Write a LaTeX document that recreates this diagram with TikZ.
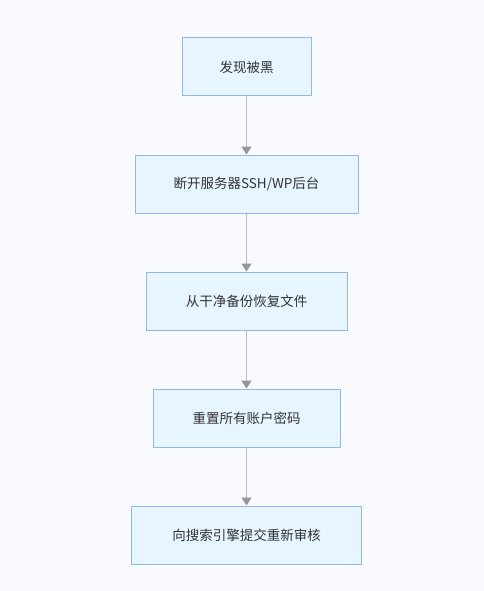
\documentclass[tikz,border=0pt]{standalone}
\usepackage{fontspec}
\newfontfamily\cjk{Noto Sans CJK SC}
\usetikzlibrary{arrows.meta}
\definecolor{bgc}{RGB}{248,250,253}
\definecolor{boxfill}{RGB}{230,245,255}
\definecolor{boxline}{RGB}{144,186,232}
\definecolor{linec}{RGB}{187,187,187}
\definecolor{tipc}{RGB}{150,150,150}
\definecolor{txt}{RGB}{51,51,51}
\tikzset{
  stepbox/.style={draw=boxline, fill=boxfill, line width=1pt, inner sep=0pt,
    font=\cjk\fontsize{13.5}{16}\selectfont, text=txt},
  conn/.style={draw=linec, line width=1.6pt,
    -{Triangle[length=8pt,width=10pt,fill=tipc,color=tipc]}}
}
\begin{document}
\begin{tikzpicture}[x=1pt,y=-1pt]
\useasboundingbox[fill=bgc] (0,0) rectangle (484,591);
\node[stepbox, minimum width=129pt, minimum height=58pt] (n1) at (246.5,67) {发现被黑};
\node[stepbox, minimum width=223pt, minimum height=58pt] (n2) at (246.5,184) {断开服务器SSH/WP后台};
\node[stepbox, minimum width=201pt, minimum height=58pt] (n3) at (246.5,301) {从干净备份恢复文件};
\node[stepbox, minimum width=187pt, minimum height=58pt] (n4) at (246.5,418) {重置所有账户密码};
\node[stepbox, minimum width=230pt, minimum height=58pt] (n5) at (246.5,535) {向搜索引擎提交重新审核};
\draw[conn] (n1) -- (n2);
\draw[conn] (n2) -- (n3);
\draw[conn] (n3) -- (n4);
\draw[conn] (n4) -- (n5);
\end{tikzpicture}
\end{document}
